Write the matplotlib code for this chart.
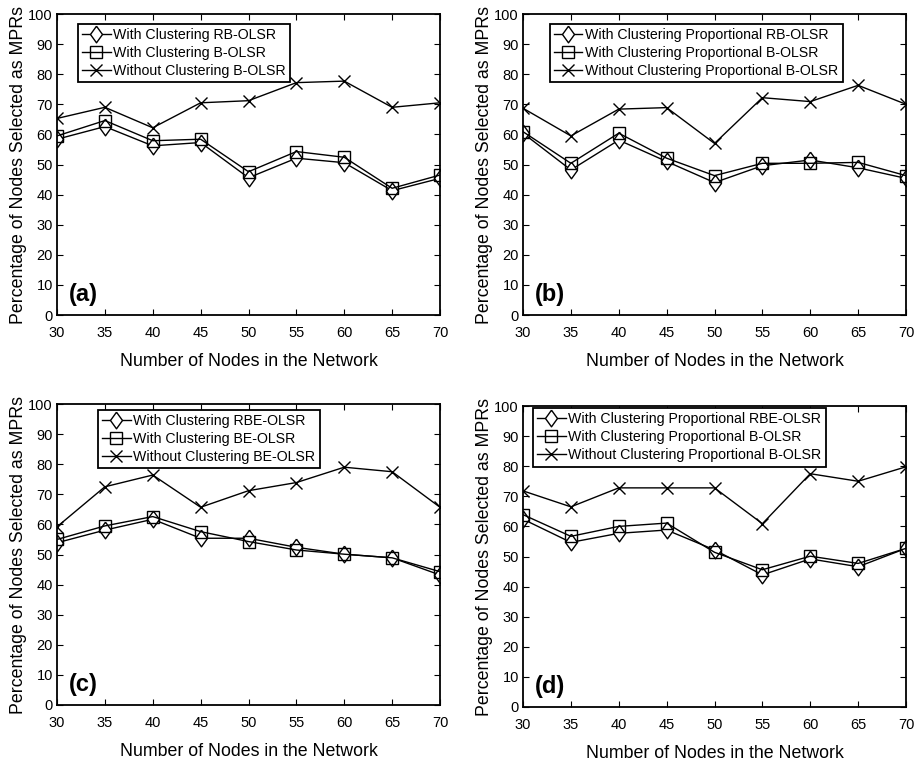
import matplotlib
matplotlib.use('Agg')
import matplotlib.pyplot as plt

plt.rcParams['font.family'] = ['Liberation Sans', 'DejaVu Sans']

nodes = [30, 35, 40, 45, 50, 55, 60, 65, 70]

# (a)
a_rb = [58.4, 62.6, 56.2, 57.3, 45.6, 52.1, 50.6, 41.3, 45.4]
a_b = [59.5, 64.6, 57.9, 58.4, 47.6, 54.3, 52.4, 42.1, 46.5]
a_nb = [65.3, 69.0, 62.2, 70.5, 71.2, 77.2, 77.7, 69.0, 70.5]
a_labels = ['With Clustering RB-OLSR', 'With Clustering B-OLSR',
            'Without Clustering B-OLSR']

# (b)
b_rb = [60.4, 48.2, 58.1, 51.0, 44.0, 49.6, 51.5, 48.9, 45.4]
b_b = [60.9, 50.4, 60.4, 52.1, 46.3, 50.4, 50.4, 50.7, 46.3]
b_nb = [68.7, 59.5, 68.4, 68.9, 57.0, 72.2, 70.9, 76.3, 70.0]
b_labels = ['With Clustering Proportional RB-OLSR',
            'With Clustering Proportional B-OLSR',
            'Without Clustering Proportional B-OLSR']

# (c)
c_rb = [53.9, 58.1, 61.7, 55.4, 55.4, 52.4, 50.1, 48.9, 43.2]
c_b = [55.0, 59.5, 62.6, 57.6, 54.3, 51.5, 50.1, 48.9, 44.3]
c_nb = [59.2, 72.5, 76.4, 65.7, 71.2, 73.9, 79.0, 77.5, 65.7]
c_labels = ['With Clustering RBE-OLSR', 'With Clustering BE-OLSR',
            'Without Clustering BE-OLSR']

# (d)
d_rb = [62.4, 54.7, 57.7, 58.8, 52.2, 43.9, 49.2, 46.6, 52.7]
d_b = [63.9, 56.7, 60.0, 61.1, 51.4, 45.6, 50.1, 47.7, 52.7]
d_nb = [71.8, 66.5, 72.8, 72.8, 72.8, 60.9, 77.5, 75.0, 79.8]
d_labels = ['With Clustering Proportional RBE-OLSR',
            'With Clustering Proportional B-OLSR',
            'Without Clustering Proportional B-OLSR']

panels = [
    ('(a)', a_rb, a_b, a_nb, a_labels, [57, 315], (0.055, 0.967)),
    ('(b)', b_rb, b_b, b_nb, b_labels, [523, 315], (0.07, 0.967)),
    ('(c)', c_rb, c_b, c_nb, c_labels, [57, 705], (0.107, 0.98)),
    ('(d)', d_rb, d_b, d_nb, d_labels, [523, 707], (0.026, 0.993)),
]

# matlab-like diamond, a bit taller than wide
diamond = [(0, 1), (0.72, 0), (0, -1), (-0.72, 0), (0, 1)]

W, H = 917, 761
fig = plt.figure(figsize=(W / 100, H / 100), dpi=100)

for tag, rb, b, nb, labels, (x0, y0), lpos in panels:
    ax = fig.add_axes([x0 / W, (H - y0) / H, 383 / W, 301 / H])
    ax.plot(nodes, rb, color='black', lw=1, marker=diamond, ms=12,
            mfc='white', mec='black', mew=1, label=labels[0])
    ax.plot(nodes, b, color='black', lw=1, marker='s', ms=8, mfc='none',
            mec='black', mew=1, label=labels[1])
    ax.plot(nodes, nb, color='black', lw=1, marker='x', ms=8.5, mew=1,
            label=labels[2])
    ax.set_xlim(30, 70)
    ax.set_ylim(0, 100)
    ax.set_xticks(nodes)
    ax.set_yticks(range(0, 101, 10))
    ax.tick_params(direction='in', top=True, right=True, length=4,
                   labelsize=10.5)
    ax.tick_params(axis='x', pad=8)
    ax.tick_params(axis='y', pad=3)
    for s in ax.spines.values():
        s.set_linewidth(1.3)
    ax.set_xlabel('Number of Nodes in the Network', fontsize=12.8,
                  labelpad=9)
    ax.set_ylabel('Percentage of Nodes Selected as MPRs', fontsize=12.8,
                  labelpad=1)
    ax.text(0.03, 0.03, tag, transform=ax.transAxes, fontsize=17,
            fontweight='bold', ha='left', va='bottom')
    leg = ax.legend(loc='upper left', bbox_to_anchor=lpos, fontsize=10.2,
                    fancybox=False, framealpha=1, edgecolor='black',
                    labelspacing=0.28, borderpad=0.3, handlelength=2.0,
                    handletextpad=0.2, borderaxespad=0)
    leg.get_frame().set_linewidth(1.3)

fig.savefig('out.png', dpi=100)
